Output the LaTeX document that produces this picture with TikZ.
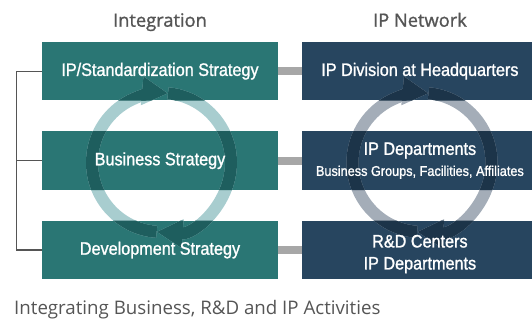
\documentclass[tikz,border=0pt]{standalone}
\usepackage{fontspec}
\setmainfont{Open Sans}
\newfontfamily\boxfont[FakeStretch=0.9,FakeBold=1.2]{Liberation Sans}
\newfontfamily\headfont[FakeBold=1.2]{Open Sans}
\usetikzlibrary{positioning,arrows.meta}
\definecolor{ipTeal}{HTML}{2A7674}
\definecolor{ipNavy}{HTML}{27455F}
\definecolor{ipTealLt}{HTML}{A8CDCF}
\definecolor{ipTealDk}{HTML}{1E5E5E}
\definecolor{ipNavyLt}{HTML}{A4ADB8}
\definecolor{ipNavyDk}{HTML}{1C3449}
\definecolor{ipLink}{HTML}{A7A7A7}
\definecolor{ipGrey}{HTML}{555555}

\begin{document}
\begin{tikzpicture}[x=1pt,y=1pt,node distance=30.5pt and 24pt,
  leftbox/.style={fill=ipTeal,minimum width=236pt,minimum height=58.5pt,inner sep=0pt},
  rightbox/.style={fill=ipNavy,minimum width=236pt,minimum height=58.5pt,inner sep=0pt},
  boxtxt/.style={text=white,font=\boxfont\fontsize{18}{22}\selectfont,align=center,inner sep=0pt},
  link/.style={draw=ipLink,line width=8pt},
  bracket/.style={draw=ipGrey,line width=1.3pt},
  ring/.style={line width=12pt,-{Triangle[length=26pt,width=27pt]}},
  head/.style={text=ipGrey,font=\headfont\fontsize{18.3}{21}\selectfont,anchor=base,inner sep=0pt}]
  \useasboundingbox (0,0) rectangle (532,320);

  % boxes
  \node[leftbox] (ipstd) at (160,248.75) {};
  \node[leftbox,below=of ipstd] (bizstr) {};
  \node[leftbox,below=of bizstr] (devstr) {};
  \node[rightbox,right=of ipstd] (hqdiv) {};
  \node[rightbox,right=of bizstr] (ipdept) {};
  \node[rightbox,right=of devstr] (rdctr) {};

  \draw[link] (ipstd) -- (hqdiv);
  \draw[link] (bizstr) -- (ipdept);
  \draw[link] (devstr) -- (rdctr);
  \draw[bracket] (ipstd.west) -- ++(-25,0) |- (devstr.west);
  \draw[bracket] (bizstr.west) -- ++(-25,0);

  % cycle rings
  \coordinate (lc) at (161.5,157.5);
  \coordinate (rc) at (422,157.5);
  \foreach \c/\col in {lc/ipTealLt,rc/ipNavyLt} {
    \draw[ring,\col] ([shift={(266:69.5)}]\c) arc[start angle=266,end angle=84.6,radius=69.5];
    \draw[ring,\col] ([shift={(84.6:69.5)}]\c) arc[start angle=84.6,end angle=-94,radius=69.5];
  }
  \begin{scope}
    \clip (ipstd.south west) rectangle (ipstd.north east)
      (bizstr.south west) rectangle (bizstr.north east)
      (devstr.south west) rectangle (devstr.north east)
      (hqdiv.south west) rectangle (hqdiv.north east)
      (ipdept.south west) rectangle (ipdept.north east)
      (rdctr.south west) rectangle (rdctr.north east);
    \foreach \c/\col in {lc/ipTealDk,rc/ipNavyDk} {
      \draw[ring,\col] ([shift={(266:69.5)}]\c) arc[start angle=266,end angle=84.6,radius=69.5];
      \draw[ring,\col] ([shift={(84.6:69.5)}]\c) arc[start angle=84.6,end angle=-94,radius=69.5];
    }
  \end{scope}

  % texts
  \node[boxtxt] (ipstd-t) at (ipstd) {IP/Standardization Strategy};
  \node[boxtxt] (bizstr-t) at (bizstr) {Business Strategy};
  \node[boxtxt] (devstr-t) at (devstr) {Development Strategy};
  \node[boxtxt] (hqdiv-t) at ([xshift=-0.5pt]hqdiv) {IP Division at Headquarters};
  \node[boxtxt] (ipdept-t) at ([xshift=-0.5pt]ipdept) {IP Departments\\[-1pt]{\fontsize{14.1}{16}\selectfont Business Groups, Facilities, Affiliates}};
  \node[boxtxt] (rdctr-t) at ([xshift=-0.5pt,yshift=-4pt]rdctr) {R\&D Centers\\IP Departments};

  \node[head] (integ) at (160,293.3) {Integration};
  \node[head] (ipnet) at (420,293.3) {IP Network};
  \node[anchor=base west,inner sep=0pt,text=ipGrey,font=\fontsize{18.7}{22}\selectfont] (caption) at (14,5) {Integrating Business, R\&D and IP Activities};
\end{tikzpicture}
\end{document}
